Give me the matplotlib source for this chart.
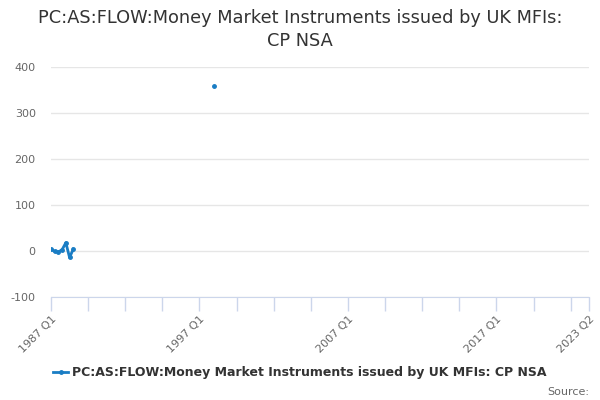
import numpy as np
import matplotlib
matplotlib.use('Agg')
import matplotlib.pyplot as plt

plt.rcParams['axes.unicode_minus'] = False

title = 'PC:AS:FLOW:Money Market Instruments issued by UK MFIs:\nCP NSA'
series_name = 'PC:AS:FLOW:Money Market Instruments issued by UK MFIs: CP NSA'

# every quarter on the axis, 1987 Q1 .. 2023 Q2
quarters = ['%d Q%d' % (y, q) for y in range(1987, 2024) for q in range(1, 5)]
quarters = quarters[:quarters.index('2023 Q2') + 1]

# observed points (others are missing)
obs_quarters = ['1987 Q1', '1987 Q2', '1987 Q3', '1987 Q4', '1988 Q1', '1988 Q2', '1988 Q3', '1998 Q1']
obs_values = [4, -1, -2, 3, 18, -14, 4, 358]

label_quarters = ['1987 Q1', '1997 Q1', '2007 Q1', '2017 Q1', '2023 Q2']
yticks = [-100, 0, 100, 200, 300, 400]

values = np.full(len(quarters), np.nan)
for q, v in zip(obs_quarters, obs_values):
    values[quarters.index(q)] = v
x = np.arange(len(quarters))

color = '#1a7dc4'
fig = plt.figure(figsize=(6, 4), dpi=100)
ax = fig.add_axes([0.085, 0.2575, 0.897, 0.575])

ax.plot(x, values, color=color, linewidth=2, marker='o', markersize=2.5, label=series_name)

ax.set_xlim(0, len(quarters) - 1)
ax.set_ylim(-100, 400)
ax.set_yticks(yticks)
ax.grid(axis='y', color='#e6e6e6', linewidth=1)
ax.set_axisbelow(True)

minor = list(range(0, len(quarters), 10)) + [len(quarters) - 1]
ax.set_xticks(minor, minor=True)
ax.set_xticks([quarters.index(q) for q in label_quarters])
ax.set_xticklabels(label_quarters)
ax.tick_params(axis='x', which='both', length=10, color='#ccd6eb', width=1,
               labelsize=8, labelcolor='#666666', direction='out', pad=2)
ax.tick_params(axis='y', length=0, labelsize=8, labelcolor='#666666', pad=11)
for lbl in ax.get_xticklabels():
    lbl.set_rotation(45)
    lbl.set_ha('right')
    lbl.set_rotation_mode('anchor')

for s in ['top', 'right', 'left']:
    ax.spines[s].set_visible(False)
ax.spines['bottom'].set_color('#ccd6eb')

fig.text(0.5, 0.978, title, ha='center', va='top', fontsize=12.8, color='#333333',
         linespacing=1.35)

leg = fig.legend(loc='center', bbox_to_anchor=(0.5, 0.068), frameon=False,
                 prop={'size': 9, 'weight': 'bold'}, handlelength=1.2,
                 handletextpad=0.3)
for t in leg.get_texts():
    t.set_color('#333333')

fig.text(0.982, 0.02, 'Source:', ha='right', va='center', fontsize=8, color='#666666')

fig.savefig('out.png', dpi=100)
